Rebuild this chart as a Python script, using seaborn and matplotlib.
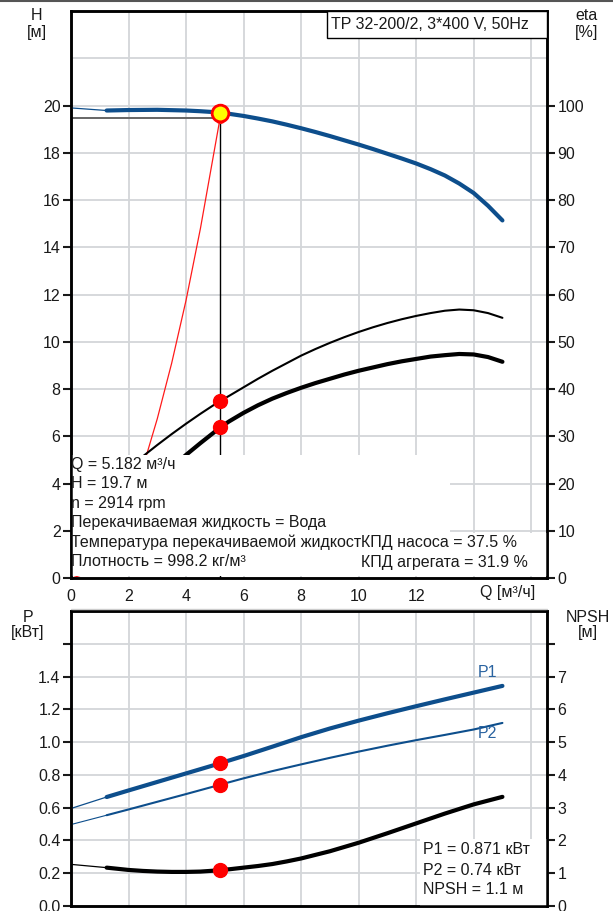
import matplotlib
matplotlib.use("Agg")
import matplotlib.pyplot as plt
from matplotlib.patches import Rectangle
from matplotlib.lines import Line2D
import seaborn as sns

# ---- pump curve data (Q in m3/h) ----
q_head = [0, 1.24, 2, 3, 4, 4.5, 5, 5.182, 5.5, 6, 6.5, 7, 7.5, 8, 8.5, 9, 9.5,
          10, 10.5, 11, 11.5, 12, 12.5, 13, 13.5, 14, 14.5, 15]
head = [19.9, 19.79, 19.81, 19.82, 19.79, 19.76, 19.72, 19.7, 19.65, 19.56,
        19.45, 19.33, 19.19, 19.04, 18.88, 18.71, 18.53, 18.35, 18.16, 17.96,
        17.76, 17.55, 17.31, 17.04, 16.7, 16.3, 15.76, 15.14]

q_eta_pump = [2.2, 2.5, 3, 3.5, 4, 4.5, 5, 5.182, 5.5, 6, 6.5, 7, 7.5, 8, 8.5,
              9, 9.5, 10, 10.5, 11, 11.5, 12, 12.5, 13, 13.5, 14, 14.5, 15]
eta_pump = [24.3, 25.8, 28.2, 30.5, 32.7, 34.8, 36.8, 37.5, 38.6, 40.4, 42.2,
            43.9, 45.5, 47.1, 48.5, 49.8, 51.0, 52.1, 53.1, 54.0, 54.8, 55.5,
            56.1, 56.6, 56.85, 56.7, 56.1, 55.1]

q_eta_unit = [3.5, 4, 4.5, 5, 5.182, 5.5, 6, 6.5, 7, 7.5, 8, 8.5, 9, 9.5, 10,
              10.5, 11, 11.5, 12, 12.5, 13, 13.5, 14, 14.5, 15]
eta_unit = [23.4, 26.1, 28.6, 31.0, 31.9, 33.2, 35.0, 36.6, 38.0, 39.2, 40.3,
            41.3, 42.2, 43.1, 43.9, 44.6, 45.3, 45.9, 46.4, 46.9, 47.2, 47.45,
            47.35, 46.8, 45.8]

q_system = [0, 0.5, 1, 1.5, 2, 2.5, 3, 3.5, 4, 4.5, 5.182]
h_system = [0, 0.19, 0.75, 1.7, 3.0, 4.7, 6.75, 9.1, 11.76, 14.8, 19.46]

q_pow = [0, 1.24, 2, 3, 4, 5, 5.182, 6, 7, 8, 9, 10, 11, 12, 13, 14, 15]
p1 = [0.595, 0.665, 0.705, 0.757, 0.809, 0.861, 0.871, 0.915, 0.972, 1.030,
      1.083, 1.131, 1.176, 1.219, 1.261, 1.302, 1.343]
p2 = [0.497, 0.554, 0.589, 0.636, 0.683, 0.731, 0.74, 0.779, 0.823, 0.864,
      0.904, 0.942, 0.978, 1.012, 1.044, 1.077, 1.117]

q_npsh = [0, 1.24, 2, 2.5, 3, 3.5, 4, 4.5, 5, 5.182, 5.5, 6, 6.5, 7, 7.5, 8,
          9, 10, 11, 12, 13, 14, 15]
npsh = [1.27, 1.17, 1.10, 1.07, 1.05, 1.04, 1.04, 1.05, 1.08, 1.1, 1.12, 1.17,
        1.22, 1.28, 1.36, 1.45, 1.67, 1.93, 2.22, 2.52, 2.82, 3.1, 3.33]

# duty point
q_duty = 5.182
h_duty = 19.7
h_required = 19.46
eta_pump_duty = 37.5
eta_unit_duty = 31.9
p1_duty = 0.871
p2_duty = 0.74
npsh_duty = 1.1

q_ticks = [0, 2, 4, 6, 8, 10, 12, 14, 16]
q_tick_labels = ["0", "2", "4", "6", "8", "10", "12", "", ""]
h_ticks = [0, 2, 4, 6, 8, 10, 12, 14, 16, 18, 20]
eta_ticks = [0, 10, 20, 30, 40, 50, 60, 70, 80, 90, 100]
p_ticks = [0.0, 0.2, 0.4, 0.6, 0.8, 1.0, 1.2, 1.4, 1.6]
p_tick_labels = ["0.0", "0.2", "0.4", "0.6", "0.8", "1.0", "1.2", "1.4", ""]
npsh_ticks = [0, 1, 2, 3, 4, 5, 6, 7, 8]
npsh_tick_labels = ["0", "1", "2", "3", "4", "5", "6", "7", ""]

sns.set_style("white")
plt.rcParams["font.family"] = ["Liberation Sans", "DejaVu Sans"]
FS = 11.5
plt.rcParams["font.size"] = FS

BLUE = "#0d4e8c"
LABEL_BLUE = "#2a63a0"
GRID = "#d3d6d9"
W, H = 613, 911

fig = plt.figure(figsize=(W / 100, H / 100), dpi=100)


def fx(px):
    return px / W


def fy(py):
    return 1 - py / H


ax_h = fig.add_axes([fx(71), fy(578.3), fx(547) - fx(71), fy(11) - fy(578.3)])
ax_e = ax_h.twinx()
ax_p = fig.add_axes([fx(71), fy(906), fx(547) - fx(71), fy(611) - fy(906)])
ax_n = ax_p.twinx()

QMAX = 16.55
for a in (ax_h, ax_e, ax_p, ax_n):
    a.set_xlim(0, QMAX)
    a.set_facecolor("none")
    for s in a.spines.values():
        s.set_linewidth(1.8)
        s.set_color("black")
        s.set_visible(True)
    a.tick_params(direction="out", length=5.5, width=1.5, labelsize=FS,
                  pad=2, colors="#1a1a1a")
ax_h.set_facecolor("white")
ax_p.set_facecolor("white")
ax_h.set_ylim(0, 24)
ax_e.set_ylim(0, 120)
ax_p.set_ylim(0, 1.8)
ax_n.set_ylim(0, 9)

# grid
for q in [2, 4, 6, 8, 10, 12, 14, 16]:
    ax_h.axvline(q, color=GRID, lw=1.3, zorder=0)
    ax_p.axvline(q, color=GRID, lw=1.3, zorder=0)
for h in range(2, 24, 2):
    ax_h.axhline(h, color=GRID, lw=1.3, zorder=0)
for p in p_ticks[1:]:
    ax_p.axhline(p, color=GRID, lw=1.3, zorder=0)

# ticks
ax_h.set_xticks(q_ticks)
ax_h.set_xticklabels(q_tick_labels)
ax_h.set_yticks(h_ticks)
ax_h.set_yticklabels([str(v) for v in h_ticks])
ax_e.set_yticks(eta_ticks)
ax_e.set_yticklabels([str(v) for v in eta_ticks])
ax_p.set_xticks(q_ticks)
ax_p.set_xticklabels([])
ax_p.set_yticks(p_ticks)
ax_p.set_yticklabels(p_tick_labels)
ax_n.set_yticks(npsh_ticks)
ax_n.set_yticklabels(npsh_tick_labels)

# ---- upper chart: head and efficiency ----
sns.lineplot(x=q_head[:2], y=head[:2], ax=ax_h, color=BLUE, lw=0.9,
             estimator=None, sort=False, zorder=3)
sns.lineplot(x=q_head[1:], y=head[1:], ax=ax_h, color=BLUE, lw=3.0,
             estimator=None, sort=False, zorder=3)
sns.lineplot(x=q_system, y=h_system, ax=ax_h, color="#ff1a1a", lw=0.9,
             estimator=None, sort=False, zorder=2)
ax_h.plot([0, q_duty], [h_required, h_required], color="#666666", lw=1.4, zorder=2)
ax_h.plot([q_duty, q_duty], [0, h_duty], color="black", lw=1.0, zorder=2)
ax_h.plot([q_duty], [h_required], marker="o", ms=7, mfc="none", mec="#ff1a1a",
          mew=1.0, zorder=4)
ax_h.plot([q_duty], [h_duty], marker="o", ms=12, mfc="#ffff00", mec="#ff0000",
          mew=2.0, zorder=5)

sns.lineplot(x=q_eta_pump, y=eta_pump, ax=ax_e, color="black", lw=1.5,
             estimator=None, sort=False, zorder=1)
sns.lineplot(x=q_eta_unit, y=eta_unit, ax=ax_e, color="black", lw=3.0,
             estimator=None, sort=False, zorder=1)
ax_e.plot([q_duty, q_duty], [eta_pump_duty, eta_unit_duty], ls="none",
          marker="o", ms=10, color="#ff0000", zorder=1.5)

# white panels behind the duty-point text
ax_e.add_patch(Rectangle((0.0, 0.1), 13.18, 5.11, transform=ax_h.transData,
                         facecolor="white", edgecolor="none", zorder=2.2))
ax_e.add_patch(Rectangle((9.88, 0.1), QMAX - 9.88, 1.83, transform=ax_h.transData,
                         facecolor="white", edgecolor="none", zorder=2.2))

# ---- lower chart: power and NPSH ----
sns.lineplot(x=q_pow[:2], y=p1[:2], ax=ax_p, color=BLUE, lw=0.9,
             estimator=None, sort=False, zorder=3)
sns.lineplot(x=q_pow[1:], y=p1[1:], ax=ax_p, color=BLUE, lw=3.0,
             estimator=None, sort=False, zorder=3)
sns.lineplot(x=q_pow[:2], y=p2[:2], ax=ax_p, color=BLUE, lw=0.8,
             estimator=None, sort=False, zorder=3)
sns.lineplot(x=q_pow[1:], y=p2[1:], ax=ax_p, color=BLUE, lw=1.5,
             estimator=None, sort=False, zorder=3)
ax_p.plot([q_duty, q_duty], [p1_duty, p2_duty], ls="none", marker="o", ms=10,
          color="#ff0000", zorder=4)

sns.lineplot(x=q_npsh[:2], y=npsh[:2], ax=ax_n, color="black", lw=0.9,
             estimator=None, sort=False, zorder=1)
sns.lineplot(x=q_npsh[1:], y=npsh[1:], ax=ax_n, color="black", lw=3.0,
             estimator=None, sort=False, zorder=1)
ax_n.plot([q_duty], [npsh_duty], ls="none", marker="o", ms=10,
          color="#ff0000", zorder=1.5)
ax_n.add_patch(Rectangle((12.14, 0.0), QMAX - 12.14, 0.41, transform=ax_p.transData,
                         facecolor="white", edgecolor="none", zorder=2.2))
for a in (ax_h, ax_e, ax_p, ax_n):
    a.set_xlabel("")
    a.set_ylabel("")


# ---- text ----
def txt(x, y, s, **kw):
    kw.setdefault("va", "center")
    kw.setdefault("ha", "left")
    kw.setdefault("fontsize", FS)
    kw.setdefault("color", "#1a1a1a")
    fig.text(fx(x), fy(y), s, **kw)


# title box
fig.add_artist(Rectangle((fx(327), fy(38)), fx(547) - fx(327), fy(11) - fy(38),
                         transform=fig.transFigure, facecolor="white",
                         edgecolor="black", lw=1.0, zorder=3))
txt(331, 24.5, "TP 32-200/2, 3*400 V, 50Hz", zorder=4)

txt(37, 16, "H", ha="center")
txt(37, 33, "[м]", ha="center")
txt(587, 16, "eta", ha="center")
txt(587, 33, "[%]", ha="center")
txt(508, 593, "Q [м³/ч]", ha="center")
txt(28, 617, "P", ha="center")
txt(28, 633, "[кВт]", ha="center")
txt(588, 617, "NPSH", ha="center")
txt(588, 633, "[м]", ha="center")

info = ["Q = 5.182 м³/ч", "H = 19.7 м", "n = 2914 rpm",
        "Перекачиваемая жидкость = Вода",
        "Температура перекачиваемой жидкост",
        "Плотность = 998.2 кг/м³"]
for i, line in enumerate(info):
    txt(71, 464 + i * 19.6, line)
txt(361, 542.5, "КПД насоса = 37.5 %")
txt(361, 562, "КПД агрегата = 31.9 %")

txt(487, 672.5, "P1", ha="center", color=LABEL_BLUE)
txt(487, 733, "P2", ha="center", color=LABEL_BLUE)
txt(423, 850, "P1 = 0.871 кВт")
txt(423, 870.5, "P2 = 0.74 кВт")
txt(423, 890, "NPSH = 1.1 м")

# frame lines
fig.add_artist(Line2D([0, 1], [fy(0.8), fy(0.8)], transform=fig.transFigure,
                      color="#555555", lw=1.5))
fig.add_artist(Line2D([fx(71), fx(547)], [fy(608.5), fy(608.5)],
                      transform=fig.transFigure, color="#cccccc", lw=1.0))

fig.savefig("out.png", dpi=100)
